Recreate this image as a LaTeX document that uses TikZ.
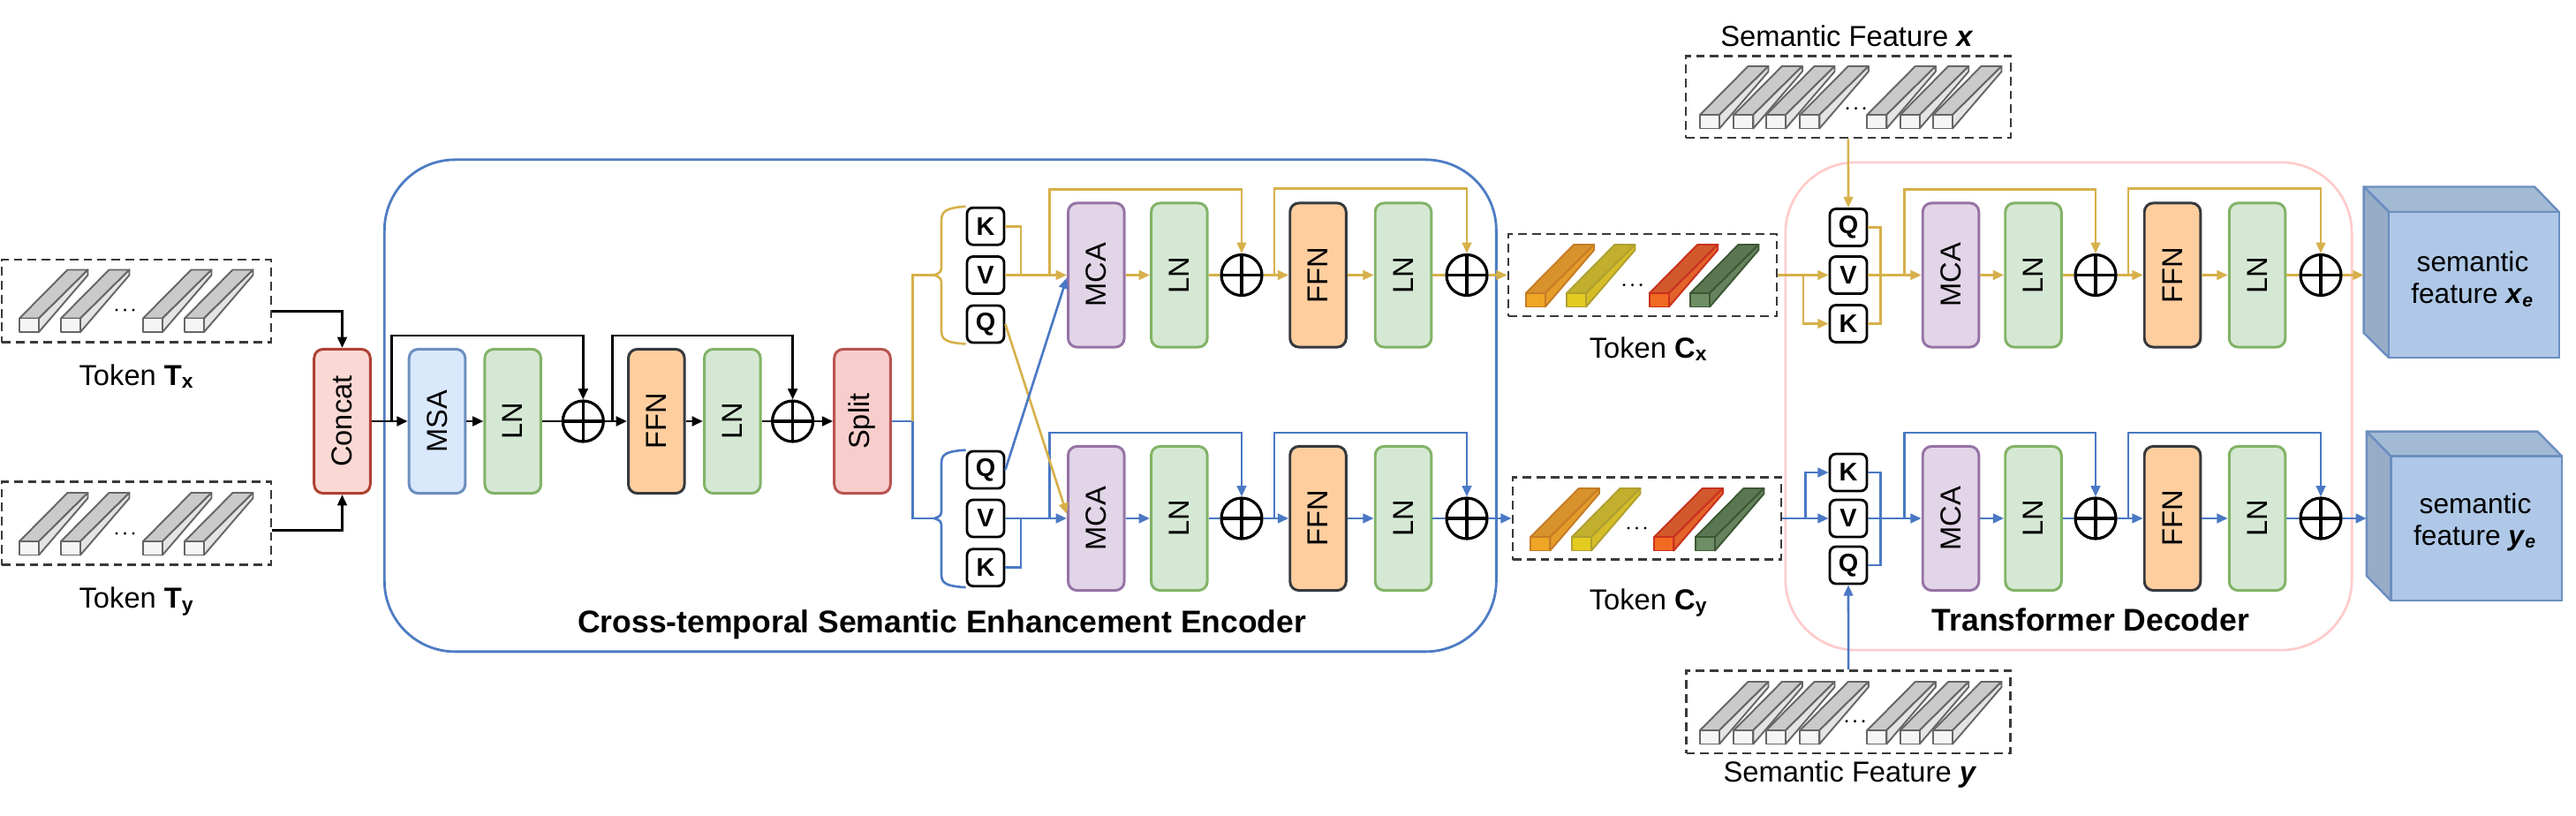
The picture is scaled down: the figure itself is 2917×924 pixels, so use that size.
\documentclass[tikz,border=0pt]{standalone}
\usepackage{fontspec}
\setmainfont{Liberation Sans}
\usetikzlibrary{arrows.meta,calc}

\definecolor{encblue}{HTML}{4D7CC4}
\definecolor{ublue}{HTML}{4A78C4}
\definecolor{ylw}{HTML}{D6B04A}
\definecolor{decpink}{HTML}{FFCACA}
\definecolor{msaF}{HTML}{DAE8FC}\definecolor{msaD}{HTML}{6C8EBF}
\definecolor{lnF}{HTML}{D5E8D4}\definecolor{lnD}{HTML}{82B366}
\definecolor{ffnF}{HTML}{FFCE9F}\definecolor{ffnD}{HTML}{36393D}
\definecolor{splF}{HTML}{F8CECC}\definecolor{splD}{HTML}{B85450}
\definecolor{catF}{HTML}{FAD9D5}\definecolor{catD}{HTML}{AE4132}
\definecolor{mcaF}{HTML}{E1D5E7}\definecolor{mcaD}{HTML}{9673A6}
\definecolor{dgray}{HTML}{3A3A3A}
\definecolor{gF}{HTML}{F5F5F5}\definecolor{gT}{HTML}{CACACA}\definecolor{gS}{HTML}{E4E4E4}\definecolor{gB}{HTML}{666666}
\definecolor{oF}{HTML}{EFA626}\definecolor{oT}{HTML}{D8922C}\definecolor{oS}{HTML}{E59B2A}\definecolor{oB}{HTML}{C57C26}
\definecolor{yF}{HTML}{E3CB20}\definecolor{yT}{HTML}{C2AF2D}\definecolor{yS}{HTML}{D4BD27}\definecolor{yB}{HTML}{B0A030}
\definecolor{rF}{HTML}{F26A22}\definecolor{rT}{HTML}{D2592C}\definecolor{rS}{HTML}{E3632A}\definecolor{rB}{HTML}{C9301E}
\definecolor{nF}{HTML}{6E8E66}\definecolor{nT}{HTML}{5B7752}\definecolor{nS}{HTML}{66835D}\definecolor{nB}{HTML}{3C5733}
\definecolor{cubF}{HTML}{AFC8E7}\definecolor{cubT}{HTML}{A3BAD4}\definecolor{cubS}{HTML}{97ACC6}\definecolor{cubB}{HTML}{6C8EBF}

\newcommand\tkbar[6]{%
  \filldraw[fill=#4,draw=#6,line width=0.55pt,line join=round] (#1,#2) -- ++(54.5,-55) -- ++(23,0) -- ({#1+22},#2) -- cycle;
  \filldraw[fill=#5,draw=#6,line width=0.55pt,line join=round] ({#1+22},#2) -- ++(55.5,-55) -- ++(0,6) -- ({#1+22},{#2+15.5}) -- cycle;
  \filldraw[fill=#3,draw=#6,line width=0.55pt,line join=round] (#1,#2) rectangle ++(22,15.5);}
\newcommand\graybar[2]{\tkbar{#1}{#2}{gF}{gT}{gS}{gB}}
\newcommand\tkdots[2]{\foreach \i in {0,1,2}{\fill ({#1+2+9.5*\i},#2) circle (0.017cm);}}

\begin{document}
\begin{tikzpicture}[x=0.01cm,y=-0.01cm,
  lab/.style={font=\fontsize{9.3}{11}\selectfont,inner sep=0},
  tlab/.style={font=\fontsize{10.1}{12}\selectfont\bfseries,inner sep=0},
  blk/.style={draw,rounded corners=0.1cm,minimum width=0.635cm,minimum height=1.63cm,inner sep=0,line width=0.85pt,font=\fontsize{9.3}{11}\selectfont},
  msab/.style={blk,fill=msaF,draw=msaD},
  lnbx/.style={blk,fill=lnF,draw=lnD},
  ffnbx/.style={blk,fill=ffnF,draw=ffnD},
  splb/.style={blk,fill=splF,draw=splD},
  catb/.style={blk,fill=catF,draw=catD},
  mcab/.style={blk,fill=mcaF,draw=mcaD},
  kvq/.style={draw,fill=white,rounded corners=0.07cm,minimum size=0.42cm,inner sep=0,line width=0.8pt,font=\fontsize{8.2}{9}\selectfont\bfseries},
  oplus/.style={circle,draw,fill=white,minimum size=0.46cm,inner sep=0,line width=0.9pt,
    path picture={\draw[line width=0.9pt] (path picture bounding box.north) -- (path picture bounding box.south) (path picture bounding box.west) -- (path picture bounding box.east);}},
  tip/.style={-{Triangle[length=3.5pt,width=3pt]}},
  bl/.style={line width=0.85pt,draw=black},
  ba/.style={bl,tip},
  yl/.style={line width=0.75pt,draw=ylw},
  ya/.style={yl,tip},
  ul/.style={line width=0.75pt,draw=ublue},
  ua/.style={ul,tip},
  dbox/.style={draw=dgray,dash pattern=on 2.8pt off 1.7pt,line width=0.7pt,inner sep=0},
]
\fill[white] (0,0) rectangle (2917,924);
\useasboundingbox (0,0) rectangle (2917,924);

% containers
\node[draw=encblue,line width=0.8pt,rounded corners=0.8cm,minimum width=12.583cm,minimum height=5.567cm,inner sep=0] (enc) at (1064.85,459.35) {};
\node[draw=decpink,line width=0.75pt,rounded corners=0.8cm,minimum width=6.41cm,minimum height=5.52cm,inner sep=0] (dec) at (2342.5,460) {};

% dashed token boxes
\node[dbox,minimum width=3.05cm,minimum height=0.935cm] (tx) at (154.5,340.75) {};
\node[dbox,minimum width=3.05cm,minimum height=0.938cm] (ty) at (154.5,592.6) {};
\node[dbox,minimum width=3.677cm,minimum height=0.927cm] (sfx) at (2092.85,109.65) {};
\node[dbox,minimum width=3.669cm,minimum height=0.934cm] (sfy) at (2093.15,806) {};
\node[dbox,minimum width=3.04cm,minimum height=0.93cm] (cx) at (1860,311.5) {};
\node[dbox,minimum width=3.04cm,minimum height=0.93cm] (cy) at (1865,587) {};

% bars
\graybar{22}{360.5}\graybar{69}{360.5}\graybar{162}{360.5}\graybar{209}{360.5}\tkdots{130}{351}
\graybar{22}{613}\graybar{69}{613}\graybar{162}{613}\graybar{209}{613}\tkdots{130}{604}
\foreach \bx in {1925,1963.3,2000,2038.3,2114.3,2151.7,2189}{\graybar{\bx}{130}}\tkdots{2090}{122.7}
\foreach \bx in {1925,1963.3,2000,2038.3,2114.3,2151.7,2189}{\graybar{\bx}{827}}\tkdots{2089}{816.7}
\tkbar{1727.7}{332}{oF}{oT}{oS}{oB}\tkbar{1774}{332}{yF}{yT}{yS}{yB}\tkbar{1867.7}{332}{rF}{rT}{rS}{rB}\tkbar{1914}{332}{nF}{nT}{nS}{nB}\tkdots{1837}{322.7}
\tkbar{1733.3}{608}{oF}{oT}{oS}{oB}\tkbar{1780}{608}{yF}{yT}{yS}{yB}\tkbar{1873.3}{608}{rF}{rT}{rS}{rB}\tkbar{1920}{608}{nF}{nT}{nS}{nB}\tkdots{1842}{598}

% labels
\node[lab,anchor=base] (ltx) at (155,436) {Token \textbf{T\textsubscript{x}}};
\node[lab,anchor=base] (lty) at (155,688.6) {Token \textbf{T\textsubscript{y}}};
\node[lab,anchor=base] (lcx) at (1867,405) {Token \textbf{C\textsubscript{x}}};
\node[lab,anchor=base] (lcy) at (1867,690) {Token \textbf{C\textsubscript{y}}};
\node[lab,anchor=base] (lsfx) at (2091.5,52.7) {Semantic Feature \textbf{\textit{x}}};
\node[lab,anchor=base] (lsfy) at (2095,885) {Semantic Feature \textbf{\textit{y}}};
\node[tlab,anchor=base] (lenc) at (1066.7,716.7) {Cross-temporal Semantic Enhancement Encoder};
\node[tlab,anchor=base] (ldec) at (2367.3,714) {Transformer Decoder};

% encoder first stage
\node[catb] (concat) at (387.5,477) {\rotatebox{90}{Concat}};
\node[msab] (msa) at (495,477) {\rotatebox{90}{MSA}};
\node[lnbx] (ln1) at (580.7,477) {\rotatebox{90}{LN}};
\node[oplus] (pb1) at (660.3,477) {};
\node[ffnbx] (ffn1) at (743.3,477) {\rotatebox{90}{FFN}};
\node[lnbx] (ln2) at (829.3,477) {\rotatebox{90}{LN}};
\node[oplus] (pb2) at (897.6,477) {};
\node[splb] (split) at (976.5,477) {\rotatebox{90}{Split}};

% encoder branches
\node[kvq] (k1) at (1116,256.2) {K};
\node[kvq] (v1) at (1116,311.5) {V};
\node[kvq] (q1) at (1116,367) {Q};
\node[kvq] (q2) at (1116,532) {Q};
\node[kvq] (v2) at (1116,587) {V};
\node[kvq] (k2) at (1116,642.7) {K};
\node[mcab] (mca1) at (1241.3,311.5) {\rotatebox{90}{MCA}};
\node[lnbx] (lna) at (1335.3,311.5) {\rotatebox{90}{LN}};
\node[oplus] (pe1) at (1406,311.5) {};
\node[ffnbx] (ffna) at (1492.5,311.5) {\rotatebox{90}{FFN}};
\node[lnbx] (lnb) at (1589,311.5) {\rotatebox{90}{LN}};
\node[oplus] (pe2) at (1661,311.5) {};
\node[mcab] (mca2) at (1241.3,587) {\rotatebox{90}{MCA}};
\node[lnbx] (lnc) at (1335.3,587) {\rotatebox{90}{LN}};
\node[oplus] (pe3) at (1406,587) {};
\node[ffnbx] (ffnb) at (1492.5,587) {\rotatebox{90}{FFN}};
\node[lnbx] (lnd) at (1589,587) {\rotatebox{90}{LN}};
\node[oplus] (pe4) at (1661,587) {};

% decoder
\node[kvq] (q3) at (2093,257.5) {Q};
\node[kvq] (v3) at (2093,311.5) {V};
\node[kvq] (k3) at (2093,366.5) {K};
\node[kvq] (k4) at (2093,535) {K};
\node[kvq] (v4) at (2093,587) {V};
\node[kvq] (q4) at (2093,640) {Q};
\node[mcab] (mcad1) at (2209,311.5) {\rotatebox{90}{MCA}};
\node[lnbx] (lnd1) at (2302.5,311.5) {\rotatebox{90}{LN}};
\node[oplus] (pd1) at (2373,311.5) {};
\node[ffnbx] (ffnd1) at (2460,311.5) {\rotatebox{90}{FFN}};
\node[lnbx] (lnd2) at (2556,311.5) {\rotatebox{90}{LN}};
\node[oplus] (pd2) at (2628,311.5) {};
\node[mcab] (mcad2) at (2209,587) {\rotatebox{90}{MCA}};
\node[lnbx] (lnd3) at (2302.5,587) {\rotatebox{90}{LN}};
\node[oplus] (pd3) at (2373,587) {};
\node[ffnbx] (ffnd2) at (2460,587) {\rotatebox{90}{FFN}};
\node[lnbx] (lnd4) at (2556,587) {\rotatebox{90}{LN}};
\node[oplus] (pd4) at (2628,587) {};

% cubes
\filldraw[fill=cubT,draw=cubB,line width=0.7pt,line join=round] (2676.7,211.5) -- (2870,211.5) -- (2897.7,240) -- (2705,240) -- cycle;
\filldraw[fill=cubS,draw=cubB,line width=0.7pt,line join=round] (2676.7,211.5) -- (2705,240) -- (2705,405) -- (2676.7,377) -- cycle;
\node[draw=cubB,fill=cubF,line width=0.7pt,minimum width=1.927cm,minimum height=1.65cm,inner sep=0] (cubx) at (2801.35,322.5) {};
\node[lab,align=center,font=\fontsize{9}{10.2}\selectfont] (tcx) at (2800,316) {semantic\\feature \textbf{\textit{x}\textsubscript{\textit{e}}}};
\coordinate (cxin) at (2676.7,311.5);
\filldraw[fill=cubT,draw=cubB,line width=0.7pt,line join=round] (2679.8,488.6) -- (2873.5,488.6) -- (2901,516.6) -- (2707.3,516.6) -- cycle;
\filldraw[fill=cubS,draw=cubB,line width=0.7pt,line join=round] (2679.8,488.6) -- (2707.3,516.6) -- (2707.3,680) -- (2679.8,652) -- cycle;
\node[draw=cubB,fill=cubF,line width=0.7pt,minimum width=1.937cm,minimum height=1.634cm,inner sep=0] (cuby) at (2804.15,598.3) {};
\node[lab,align=center,font=\fontsize{9}{10.2}\selectfont] (tcy) at (2803,591) {semantic\\feature \textbf{\textit{y}\textsubscript{\textit{e}}}};
\coordinate (cyin) at (2679.8,587);

% ---- connectors: input stage
\draw[ba] ([yshift=-0.12cm]tx.east) -| (concat.north);
\draw[ba] ([yshift=-0.083cm]ty.east) -| (concat.south);
\draw[ba] (concat.east) -- (msa.west);
\coordinate (sk0) at ($(concat.east)!0.56!(msa.west)$);
\draw[ba] (sk0) -- ++(0,-97) -| (pb1.north);
\draw[ba] (msa.east) -- (ln1.west);
\draw[bl] (ln1.east) -- (pb1.west);
\draw[ba] (pb1.east) -- (ffn1.west);
\coordinate (sk1) at ($(pb1.east)!0.33!(ffn1.west)$);
\draw[ba] (sk1) -- ++(0,-97) -| (pb2.north);
\draw[ba] (ffn1.east) -- (ln2.west);
\draw[bl] (ln2.east) -- (pb2.west);
\draw[ba] (pb2.east) -- (split.west);

% split and braces
\coordinate (jn) at (1033.7,477);
\coordinate (bt1) at (1058,311.5);
\coordinate (bt2) at (1058,587);
\draw[ul] (split.east) -- (jn);
\draw[yl] (jn) |- (bt1);
\draw[ul] (jn) |- (bt2);
\draw[yl] (k1.north west) .. controls (1070,235.4) and (1066,240) .. (1066,250) -- (1066,299) .. controls (1066,308) .. (bt1) .. controls (1066,315) .. (1066,324) -- (1066,374) .. controls (1066,384) and (1070,388) .. (q1.south west);
\draw[ul] (q2.north west) .. controls (1070,511) and (1066,515) .. (1066,525) -- (1066,575) .. controls (1066,584) .. (bt2) .. controls (1066,590) .. (1066,599) -- (1066,650) .. controls (1066,660) and (1070,663.6) .. (k2.south west);

% encoder top row (yellow)
\draw[yl] (k1.east) -- ++(17.5,0) |- (v1.east);
\draw[ya] (v1.east) -- (mca1.west);
\coordinate (sk2) at ($(v1.east)!0.717!(mca1.west)$);
\draw[ya] (sk2) -- ++(0,-97) -| (pe1.north);
\draw[ya] (mca1.east) -- (lna.west);
\draw[yl] (lna.east) -- (pe1.west);
\draw[ya] (pe1.east) -- (ffna.west);
\coordinate (sk3) at ($(pe1.east)!0.435!(ffna.west)$);
\draw[ya] (sk3) -- ++(0,-98) -| (pe2.north);
\draw[ya] (ffna.east) -- (lnb.west);
\draw[yl] (lnb.east) -- (pe2.west);
\draw[ya] (pe2.east) -- (cx.west);

% encoder bottom row (blue)
\draw[ul] (k2.east) -- ++(17.5,0) |- (v2.east);
\draw[ua] (v2.east) -- (mca2.west);
\coordinate (sk4) at ($(v2.east)!0.717!(mca2.west)$);
\draw[ua] (sk4) -- ++(0,-97) -| (pe3.north);
\draw[ua] (mca2.east) -- (lnc.west);
\draw[ul] (lnc.east) -- (pe3.west);
\draw[ua] (pe3.east) -- (ffnb.west);
\coordinate (sk5) at ($(pe3.east)!0.435!(ffnb.west)$);
\draw[ua] (sk5) -- ++(0,-97) -| (pe4.north);
\draw[ua] (ffnb.east) -- (lnd.west);
\draw[ul] (lnd.east) -- (pe4.west);
\draw[ua] (pe4.east) -- (cy.west);

% cross connections
\draw[ya] (q1.east) -- ([yshift=0.05cm]mca2.west);
\draw[ua] (q2.east) -- ([yshift=-0.03cm]mca1.west);

% decoder top row (yellow)
\draw[ya] (sfx.south) -- (q3.north);
\draw[ya] (cx.east) -- (v3.west);
\coordinate (jd1) at ($(cx.east)!0.5!(v3.west)$);
\draw[ya] (jd1) |- (k3.west);
\draw[yl] (q3.east) -- ++(14,0) |- (k3.east);
\draw[ya] (v3.east) -- (mcad1.west);
\coordinate (skd1) at ($(v3.east)!0.68!(mcad1.west)$);
\draw[ya] (skd1) -- ++(0,-97) -| (pd1.north);
\draw[ya] (mcad1.east) -- (lnd1.west);
\draw[yl] (lnd1.east) -- (pd1.west);
\draw[ya] (pd1.east) -- (ffnd1.west);
\coordinate (skd2) at ($(pd1.east)!0.43!(ffnd1.west)$);
\draw[ya] (skd2) -- ++(0,-98) -| (pd2.north);
\draw[ya] (ffnd1.east) -- (lnd2.west);
\draw[yl] (lnd2.east) -- (pd2.west);
\draw[ya] (pd2.east) -- (cxin);

% decoder bottom row (blue)
\draw[ua] (sfy.north) -- (q4.south);
\draw[ua] (cy.east) -- (v4.west);
\coordinate (jd2) at ($(cy.east)!0.5!(v4.west)$);
\draw[ua] (jd2) |- (k4.west);
\draw[ul] (k4.east) -- ++(14,0) |- (q4.east);
\draw[ua] (v4.east) -- (mcad2.west);
\coordinate (skd3) at ($(v4.east)!0.68!(mcad2.west)$);
\draw[ua] (skd3) -- ++(0,-97) -| (pd3.north);
\draw[ua] (mcad2.east) -- (lnd3.west);
\draw[ul] (lnd3.east) -- (pd3.west);
\draw[ua] (pd3.east) -- (ffnd2.west);
\coordinate (skd4) at ($(pd3.east)!0.43!(ffnd2.west)$);
\draw[ua] (skd4) -- ++(0,-97) -| (pd4.north);
\draw[ua] (ffnd2.east) -- (lnd4.west);
\draw[ul] (lnd4.east) -- (pd4.west);
\draw[ua] (pd4.east) -- (cyin);
\end{tikzpicture}
\end{document}
